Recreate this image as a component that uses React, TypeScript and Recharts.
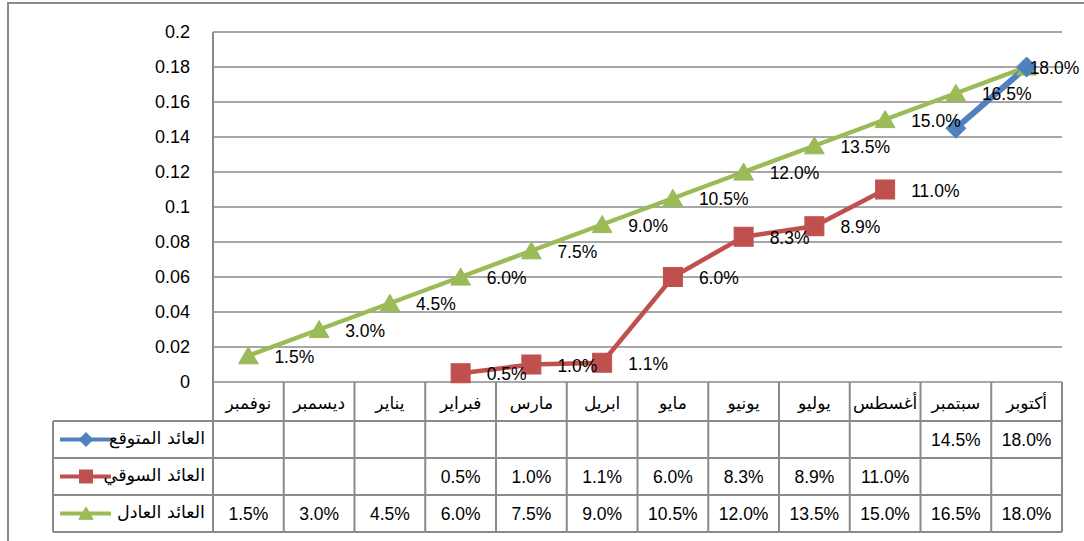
import React from 'react';
import { LineChart, Line, XAxis, YAxis, CartesianGrid, LabelList } from 'recharts';

const categories = ['نوفمبر', 'ديسمبر', 'يناير', 'فبراير', 'مارس', 'ابريل', 'مايو', 'يونيو', 'يوليو', 'أغسطس', 'سبتمبر', 'أكتوبر'];
const expectedReturn = [null, null, null, null, null, null, null, null, null, null, 0.145, 0.18];
const marketReturn = [null, null, null, 0.005, 0.01, 0.011, 0.06, 0.083, 0.089, 0.11, null, null];
const fairReturn = [0.015, 0.03, 0.045, 0.06, 0.075, 0.09, 0.105, 0.12, 0.135, 0.15, 0.165, 0.18];
const yTicks = [0, 0.02, 0.04, 0.06, 0.08, 0.1, 0.12, 0.14, 0.16, 0.18, 0.2];
const seriesNames = ['العائد المتوقع', 'العائد السوقي', 'العائد العادل'];

const data = categories.map((month, i) => ({
  month,
  expected: expectedReturn[i],
  market: marketReturn[i],
  fair: fairReturn[i],
}));

const BLUE = '#4F81BD';
const RED = '#C0504D';
const GREEN = '#9BBB59';
const GRID = '#8a8a8a';
const FONT = "'Liberation Sans', 'DejaVu Sans', Arial, sans-serif";
const AR_FONT = "'DejaVu Sans', sans-serif";

const fmt = (v: number | null | undefined) => (v == null ? '' : (v * 100).toFixed(1) + '%');

type Kind = 'diamond' | 'square' | 'triangle';

const marker = (kind: Kind, cx: number, cy: number, color: string, s: number, key?: string) => {
  if (kind === 'diamond') {
    return (
      <polygon key={key} points={`${cx},${cy - s} ${cx + s},${cy} ${cx},${cy + s} ${cx - s},${cy}`} fill={color} stroke={color} />
    );
  }
  if (kind === 'square') {
    return <rect key={key} x={cx - s} y={cy - s} width={2 * s} height={2 * s} fill={color} stroke={color} />;
  }
  return (
    <polygon key={key} points={`${cx},${cy - s} ${cx + s * 1.1},${cy + s * 0.9} ${cx - s * 1.1},${cy + s * 0.9}`} fill={color} stroke={color} />
  );
};

const makeDot = (kind: Kind, color: string, s: number) => (props: any) => {
  const { cx, cy, value, index } = props;
  if (value == null || cx == null || cy == null) return <g key={`d-${kind}-${index}`} />;
  return <g key={`d-${kind}-${index}`}>{marker(kind, cx, cy, color, s)}</g>;
};

const renderLabel = (props: any) => {
  const { x, y, value, index } = props;
  if (value == null || x == null || y == null) return <g />;
  const dx = index === categories.length - 1 ? 3 : 26;
  return (
    <text x={x + dx} y={y + 1} dominantBaseline="central" fontSize={17.5} fontFamily={FONT} fill="#000">
      {fmt(value)}
    </text>
  );
};

const seriesRows: { key: 'expected' | 'market' | 'fair'; color: string; kind: Kind }[] = [
  { key: 'expected', color: BLUE, kind: 'diamond' },
  { key: 'market', color: RED, kind: 'square' },
  { key: 'fair', color: GREEN, kind: 'triangle' },
];

const TableTick = (props: any) => {
  const { x, y, payload, width } = props;
  const idx = categories.indexOf(payload.value);
  const half = payload.offset && payload.offset > 0 ? payload.offset : width / categories.length / 2;
  const left = x - half;
  const right = x + half;
  const headerH = 39;
  const rowH = 37;
  const rowTop = (r: number) => y + headerH + r * rowH;
  const bottom = rowTop(3);
  const row = data[idx] as any;
  const lineProps = { stroke: GRID, strokeWidth: 2 };
  const legendLeft = left - 160;
  return (
    <g>
      <line x1={left} y1={y} x2={left} y2={bottom} {...lineProps} />
      {idx === categories.length - 1 && <line x1={right} y1={y} x2={right} y2={bottom} {...lineProps} />}
      {[0, 1, 2, 3].map((r) => (
        <line key={r} x1={left} y1={rowTop(r)} x2={right} y2={rowTop(r)} {...lineProps} />
      ))}
      <text x={x} y={y + headerH / 2 + 1} textAnchor="middle" dominantBaseline="central" fontSize={17} fontFamily={AR_FONT} fill="#000">
        {payload.value}
      </text>
      {seriesRows.map((s, r) => (
        <text key={s.key} x={x} y={rowTop(r) + rowH / 2} textAnchor="middle" dominantBaseline="central" fontSize={17.5} fontFamily={FONT} fill="#000">
          {fmt(row[s.key])}
        </text>
      ))}
      {idx === 0 && (
        <g>
          <line x1={legendLeft} y1={rowTop(0)} x2={legendLeft} y2={bottom} {...lineProps} />
          {[0, 1, 2, 3].map((r) => (
            <line key={`l${r}`} x1={legendLeft} y1={rowTop(r)} x2={left} y2={rowTop(r)} {...lineProps} />
          ))}
          {seriesRows.map((s, r) => {
            const cy = rowTop(r) + rowH / 2;
            return (
              <g key={`lg${s.key}`}>
                <line x1={legendLeft + 7} y1={cy} x2={legendLeft + 58} y2={cy} stroke={s.color} strokeWidth={4} />
                {marker(s.kind, legendLeft + 33, cy, s.color, s.kind === 'diamond' ? 7 : 6.5)}
                <text x={left - 8} y={cy - 2} textAnchor="end" dominantBaseline="central" fontSize={17.5} fontFamily={AR_FONT} fill="#000">
                  {seriesNames[r]}
                </text>
              </g>
            );
          })}
        </g>
      )}
    </g>
  );
};

export default function App() {
  return (
    <div style={{ position: 'absolute', left: 0, top: 0, width: 1084, height: 541, overflow: 'hidden', background: '#fff' }}>
      <div
        style={{
          position: 'absolute',
          left: 7,
          top: 2,
          width: 1200,
          height: 700,
          border: `2px solid ${GRID}`,
          boxSizing: 'border-box',
        }}
      />
      <div style={{ position: 'absolute', left: 0, top: 0 }}>
        <LineChart width={1084} height={541} data={data} margin={{ top: 32, right: 22, bottom: 0, left: 0 }}>
          <CartesianGrid horizontal vertical={false} stroke={GRID} strokeWidth={1.5} />
          <XAxis
            dataKey="month"
            scale="band"
            height={159}
            interval={0}
            axisLine={false}
            tickLine={false}
            tickSize={0}
            tickMargin={0}
            tick={(p: any) => <TableTick {...p} />}
          />
          <YAxis
            width={213}
            domain={[0, 0.2]}
            ticks={yTicks}
            axisLine={{ stroke: GRID, strokeWidth: 2 }}
            tickLine={false}
            tickSize={0}
            tickMargin={23}
            tickFormatter={(v: number) => String(v)}
            tick={{ fill: '#000', fontSize: 18, fontFamily: FONT }}
          />
          <Line
            dataKey="fair"
            stroke={GREEN}
            strokeWidth={4.5}
            isAnimationActive={false}
            dot={makeDot('triangle', GREEN, 9)}
            activeDot={false}
          >
            <LabelList dataKey="fair" content={renderLabel} />
          </Line>
          <Line
            dataKey="market"
            stroke={RED}
            strokeWidth={4.5}
            isAnimationActive={false}
            dot={makeDot('square', RED, 9.5)}
            activeDot={false}
          >
            <LabelList dataKey="market" content={renderLabel} />
          </Line>
          <Line
            dataKey="expected"
            stroke={BLUE}
            strokeWidth={6}
            isAnimationActive={false}
            dot={makeDot('diamond', BLUE, 10)}
            activeDot={false}
          />
        </LineChart>
      </div>
    </div>
  );
}
